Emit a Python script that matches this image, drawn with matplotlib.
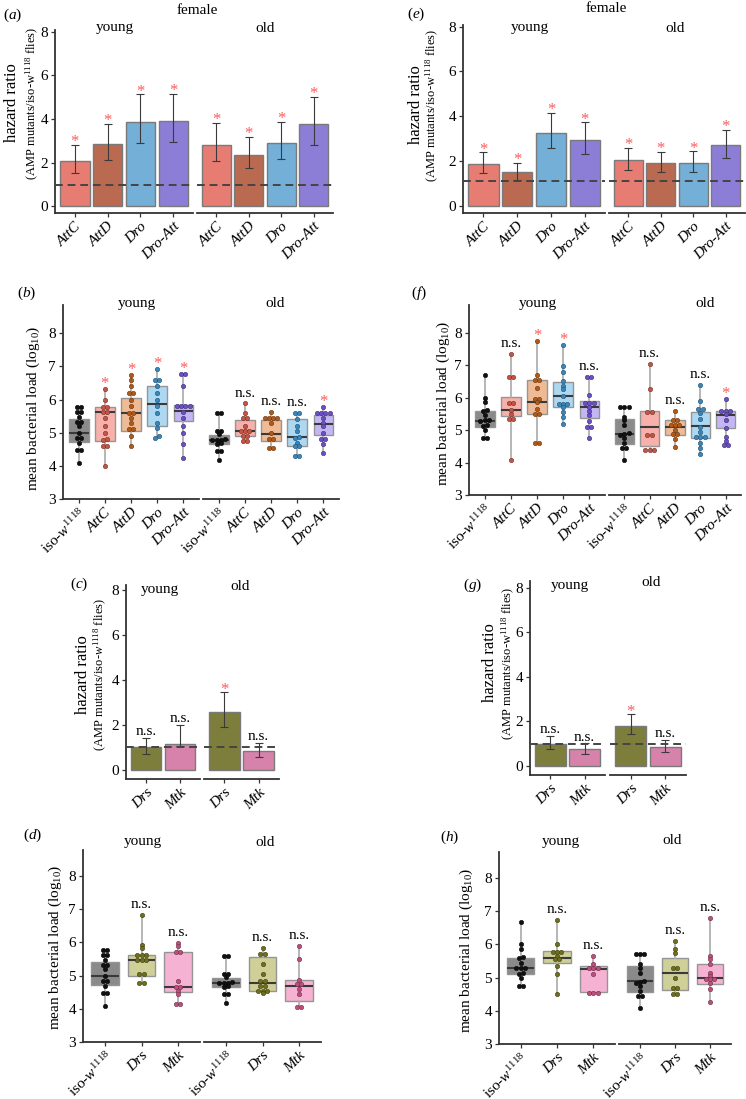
import matplotlib
matplotlib.use('Agg')
import matplotlib.pyplot as plt
import matplotlib.colors as mcolors
import numpy as np

plt.rcParams['font.family'] = ['Liberation Serif', 'DejaVu Serif']
plt.rcParams['mathtext.fontset'] = 'custom'
plt.rcParams['mathtext.rm'] = 'Liberation Serif'
plt.rcParams['mathtext.it'] = 'Liberation Serif:italic'
plt.rcParams['mathtext.bf'] = 'Liberation Serif:bold'

# ---------------- data ----------------
hr_genes = ['AttC', 'AttD', 'Dro', 'Dro-Att']
a_young_hr = [2.06, 2.83, 3.86, 3.91]
a_young_lo = [1.52, 2.11, 2.91, 2.95]
a_young_hi = [2.80, 3.77, 5.14, 5.17]
a_old_hr = [2.80, 2.34, 2.91, 3.75]
a_old_lo = [2.05, 1.75, 2.18, 2.82]
a_old_hi = [3.82, 3.18, 3.88, 5.03]
a_sig_young = ['*', '*', '*', '*']
a_sig_old = ['*', '*', '*', '*']
a_ref = 0.95

e_young_hr = [1.87, 1.49, 3.27, 2.93]
e_young_lo = [1.45, 1.16, 2.58, 2.30]
e_young_hi = [2.39, 1.91, 4.16, 3.72]
e_old_hr = [2.04, 1.90, 1.91, 2.69]
e_old_lo = [1.61, 1.49, 1.49, 2.12]
e_old_hi = [2.60, 2.40, 2.43, 3.39]
e_sig_young = ['*', '*', '*', '*']
e_sig_old = ['*', '*', '*', '*']
e_ref = 1.09

toll_genes = ['Drs', 'Mtk']
c_young_hr = [1.00, 1.14]
c_young_lo = [0.71, 1.05]
c_young_hi = [1.41, 2.01]
c_old_hr = [2.55, 0.84]
c_old_lo = [1.90, 0.59]
c_old_hi = [3.44, 1.19]
c_sig_young = ['n.s.', 'n.s.']
c_sig_old = ['*', 'n.s.']
c_ref = 1.0

g_young_hr = [1.01, 0.75]
g_young_lo = [0.78, 0.56]
g_young_hi = [1.34, 1.02]
g_old_hr = [1.80, 0.87]
g_old_lo = [1.44, 0.63]
g_old_hi = [2.32, 1.16]
g_sig_young = ['n.s.', 'n.s.']
g_sig_old = ['*', 'n.s.']
g_ref = 1.0

load_genes_imd = ['iso', 'AttC', 'AttD', 'Dro', 'Dro-Att']
load_genes_toll = ['iso', 'Drs', 'Mtk']

# controls (shared between panels b/d and f/h)
iso_bd_young = [5.78, 5.78, 5.62, 5.62, 5.48, 5.32, 5.32, 5.2, 5.0, 4.84, 4.84, 4.7, 4.48, 4.48, 4.08]
iso_bd_young_box = (4.72, 5.00, 5.40)
iso_bd_old = [5.58, 5.58, 5.05, 5.05, 4.95, 4.82, 4.78, 4.78, 4.78, 4.72, 4.7, 4.65, 4.45, 4.45, 4.17]
iso_bd_old_box = (4.65, 4.78, 4.93)
iso_fh_young = [6.68, 6.0, 5.85, 5.62, 5.6, 5.45, 5.3, 5.3, 5.28, 5.15, 5.12, 5.0, 4.75, 4.75]
iso_fh_young_box = (5.10, 5.29, 5.60)
iso_fh_old = [5.72, 5.72, 5.72, 5.4, 5.3, 5.15, 4.9, 4.88, 4.85, 4.75, 4.6, 4.45, 4.45, 4.08]
iso_fh_old_box = (4.57, 4.89, 5.35)

# panel b
b_young_pts = [iso_bd_young,
               [6.33, 6.0, 5.78, 5.78, 5.62, 5.62, 5.45, 5.2, 5.0, 4.8, 4.78, 4.6, 4.6, 4.0],
               [6.75, 6.6, 6.4, 6.2, 6.2, 6.0, 5.8, 5.6, 5.6, 5.45, 5.3, 5.1, 5.1, 4.9, 4.6],
               [6.93, 6.6, 6.6, 6.4, 6.2, 6.0, 5.8, 5.6, 5.3, 5.15, 4.9, 4.85],
               [6.78, 6.78, 6.42, 5.8, 5.8, 5.8, 5.8, 5.62, 5.45, 5.2, 5.0, 4.65, 4.25]]
b_young_box = [iso_bd_young_box, (4.76, 5.62, 5.78), (5.05, 5.60, 6.05), (5.20, 5.87, 6.42), (5.35, 5.66, 5.82)]
b_young_sig = ['', '*', '*', '*', '*']
b_old_pts = [iso_bd_old,
             [5.88, 5.6, 5.45, 5.45, 5.2, 5.05, 5.05, 5.05, 4.9, 4.9, 4.75, 4.75],
             [5.62, 5.45, 5.45, 5.45, 5.45, 5.3, 5.0, 4.8, 4.8, 4.55, 4.55],
             [5.58, 5.58, 5.4, 5.2, 5.05, 4.87, 4.85, 4.7, 4.6, 4.6, 4.3, 4.3],
             [5.78, 5.58, 5.58, 5.58, 5.58, 5.45, 5.3, 5.2, 5.0, 4.8, 4.8, 4.65, 4.38]]
b_old_box = [iso_bd_old_box, (4.90, 5.04, 5.38), (4.76, 4.97, 5.38), (4.60, 4.87, 5.42), (4.92, 5.27, 5.53)]
b_old_sig = ['', 'n.s.', 'n.s.', 'n.s.', '*']

# panel f
f_young_pts = [iso_fh_young,
               [7.33, 6.62, 6.62, 5.82, 5.82, 5.62, 5.5, 5.35, 5.35, 4.08],
               [7.75, 6.68, 6.55, 6.55, 6.3, 5.95, 5.95, 5.85, 5.65, 5.5, 5.5, 4.6, 4.6],
               [7.62, 6.98, 6.8, 6.5, 6.35, 6.25, 6.05, 5.8, 5.8, 5.8, 5.7, 5.55, 5.4, 5.2],
               [6.62, 6.62, 6.08, 5.82, 5.82, 5.82, 5.72, 5.6, 5.45, 5.28, 5.1, 5.1, 4.75]]
f_young_box = [iso_fh_young_box, (5.42, 5.62, 6.02), (5.50, 5.85, 6.55), (5.70, 6.05, 6.47), (5.36, 5.72, 5.88)]
f_young_sig = ['', 'n.s.', '*', '*', 'n.s.']
f_old_pts = [iso_fh_old,
             [7.03, 6.25, 5.55, 5.55, 4.85, 4.85, 4.4, 4.4, 4.4],
             [5.58, 5.3, 5.3, 5.15, 5.15, 5.15, 5.0, 4.88, 4.88, 4.72, 4.48],
             [6.38, 5.9, 5.65, 5.65, 5.52, 5.35, 5.1, 4.95, 4.8, 4.8, 4.8, 4.6, 4.45, 4.25],
             [5.95, 5.6, 5.6, 5.6, 5.5, 5.3, 5.05, 4.8, 4.65, 4.55, 4.55]]
f_old_box = [iso_fh_old_box, (4.52, 5.08, 5.58), (4.85, 5.10, 5.30), (4.75, 5.13, 5.55), (5.05, 5.47, 5.60)]
f_old_sig = ['', 'n.s.', 'n.s.', 'n.s.', '*']

# panel d
d_young_pts = [iso_bd_young,
               [6.82, 5.92, 5.82, 5.62, 5.62, 5.62, 5.47, 5.47, 5.47, 5.05, 5.05, 4.78, 4.78],
               [5.98, 5.88, 5.7, 5.7, 4.85, 4.65, 4.65, 4.55, 4.45, 4.15, 4.15]]
d_young_box = [iso_bd_young_box, (5.00, 5.47, 5.63), (4.50, 4.65, 5.70)]
d_young_sig = ['', 'n.s.', 'n.s.']
d_old_pts = [iso_bd_old,
             [5.82, 5.65, 5.65, 5.35, 5.05, 4.85, 4.85, 4.7, 4.7, 4.55, 4.55, 4.55, 4.48],
             [5.9, 5.5, 4.88, 4.75, 4.75, 4.6, 4.45, 4.05, 4.05]]
d_old_box = [iso_bd_old_box, (4.55, 4.78, 5.56), (4.22, 4.68, 4.88)]
d_old_sig = ['', 'n.s.', 'n.s.']

# panel h
h_young_pts = [iso_fh_young,
               [6.72, 6.0, 5.78, 5.78, 5.78, 5.65, 5.55, 5.55, 5.35, 5.1, 4.52],
               [5.65, 5.42, 5.3, 5.3, 5.3, 5.1, 4.55, 4.55, 4.55]]
h_young_box = [iso_fh_young_box, (5.45, 5.58, 5.80), (4.57, 5.25, 5.35)]
h_young_sig = ['', 'n.s.', 'n.s.']
h_old_pts = [iso_fh_old,
             [6.1, 5.85, 5.75, 5.3, 5.3, 5.0, 4.7, 4.7, 4.5, 4.5],
             [6.78, 5.65, 5.55, 5.4, 5.15, 5.05, 4.95, 4.95, 4.95, 4.85, 4.65, 4.25]]
h_old_box = [iso_fh_old_box, (4.64, 5.15, 5.60), (4.80, 4.98, 5.42)]
h_old_sig = ['', 'n.s.', 'n.s.']

# ---------------- styles ----------------
bar_colors = {'AttC': '#e77c73', 'AttD': '#b96a50', 'Dro': '#73afd7', 'Dro-Att': '#8c7dd7',
              'Drs': '#7d7d3c', 'Mtk': '#d782aa'}
box_fill = {'iso': '#8a8a8a', 'AttC': '#f8b0aa', 'AttD': '#efbb97', 'Dro': '#acd8f2',
            'Dro-Att': '#c4b6f4', 'Drs': '#cfcf98', 'Mtk': '#f5b2d3'}
point_colors = {'iso': '#111111', 'AttC': '#c25545', 'AttD': '#b05a1a', 'Dro': '#3a86ba',
                'Dro-Att': '#6a50c0', 'Drs': '#6e6e20', 'Mtk': '#bd4f7d'}
STAR = '#ff5a5a'
AX = '#333333'

W, H = 746, 1099
fig = plt.figure(figsize=(W / 100, H / 100), dpi=100)


def frac(x0, x1, ytop, ybot):
    return [x0 / W, 1 - ybot / H, (x1 - x0) / W, (ybot - ytop) / H]


def ftext(x, y, s, **kw):
    kw.setdefault('ha', 'center')
    kw.setdefault('va', 'center')
    fig.text(x / W, 1 - y / H, s, **kw)


def xlab(l):
    return r'iso-$w^{1118}$' if l == 'iso' else l


def darker(c, f=0.6):
    r, g, b = mcolors.to_rgb(c)
    return (r * f, g * f, b * f)


def make_facets(left, yend, ostart, oend, top, bot, ylim, yticks, labels):
    n = len(labels)
    axs = []
    for i, (x0, x1) in enumerate(((left, yend), (ostart, oend))):
        ax = fig.add_axes(frac(x0, x1, top, bot))
        ax.set_xlim(0.4, n + 0.6)
        ax.set_ylim(*ylim)
        ax.patch.set_alpha(0)
        for s in ('top', 'right'):
            ax.spines[s].set_visible(False)
        for s in ('bottom', 'left'):
            ax.spines[s].set_color(AX)
            ax.spines[s].set_linewidth(1.3)
        ax.tick_params(axis='both', colors=AX, length=3, width=0.9, labelsize=11,
                       labelcolor='black', pad=2)
        ax.set_yticks(yticks)
        ax.set_xticks(range(1, n + 1))
        tl = ax.set_xticklabels([xlab(l) for l in labels], rotation=45, ha='right',
                                va='top', rotation_mode='anchor', fontsize=11)
        for t, l in zip(tl, labels):
            t.set_fontstyle('normal' if l == 'iso' else 'italic')
        if i == 1:
            ax.spines['left'].set_visible(False)
            ax.tick_params(axis='y', left=False, labelleft=False)
        axs.append(ax)
    return axs


def sig_text(ax, x, y, s, off_star, off_ns):
    if s == '*':
        ax.annotate('*', (x, y), xytext=(0, off_star), textcoords='offset points',
                    ha='center', va='baseline', fontsize=12, color=STAR)
    elif s:
        ax.annotate(s, (x, y), xytext=(0, off_ns), textcoords='offset points',
                    ha='center', va='baseline', fontsize=11, color='black')


def hr_facet(ax, genes, hr, lo, hi, sig, ref):
    x = np.arange(1, len(genes) + 1)
    hr = np.array(hr); lo = np.array(lo); hi = np.array(hi)
    ax.bar(x, hr, width=0.9, color=[bar_colors[g] for g in genes], edgecolor='#7a7a7a',
           linewidth=1.0, zorder=2)
    ax.errorbar(x, hr, yerr=[hr - lo, hi - hr], fmt='none', ecolor='#3a3a3a',
                elinewidth=0.8, capsize=2.6, capthick=0.8, zorder=3)
    ax.axhline(ref, color='#444444', lw=1.4, ls=(0, (4, 2.5)), zorder=4)
    for xi, h, s in zip(x, hi, sig):
        sig_text(ax, xi, h, s, -1.0, 2.0)


def swarm_offsets(vals, step, binw=0.06):
    vals = np.asarray(vals, float)
    order = np.argsort(vals)
    offs = np.zeros(len(vals))
    groups, cur = [], [order[0]]
    for idx in order[1:]:
        if vals[idx] - vals[cur[0]] < binw:
            cur.append(idx)
        else:
            groups.append(cur)
            cur = [idx]
    groups.append(cur)
    for g in groups:
        k = len(g)
        for j, idx in enumerate(g):
            offs[idx] = (j - (k - 1) / 2) * step
    return offs


def box_facet(ax, labels, pts, boxes, sig, width_px):
    n = len(labels)
    unit_px = width_px / (n + 0.2)
    step = 4.3 / unit_px
    stats = []
    for (q1, med, q3), p in zip(boxes, pts):
        stats.append(dict(med=med, q1=q1, q3=q3, whislo=min(p), whishi=max(p), fliers=[]))
    bp = ax.bxp(stats, positions=range(1, n + 1), widths=0.75, patch_artist=True,
                showcaps=False, showfliers=False, manage_ticks=False,
                boxprops=dict(edgecolor='#959595', linewidth=1.0),
                medianprops=dict(color='#3a3a3a', linewidth=1.5),
                whiskerprops=dict(color='#b0b0b0', linewidth=1.3))
    for patch, lab in zip(bp['boxes'], labels):
        patch.set_facecolor(box_fill[lab])
        patch.set_zorder(2)
    for i, (lab, p) in enumerate(zip(labels, pts)):
        offs = swarm_offsets(p, step)
        ax.scatter(i + 1 + offs, p, s=10, color=point_colors[lab], zorder=4,
                   edgecolors=[darker(point_colors[lab])], linewidths=0.4)
        sig_text(ax, i + 1, max(p), sig[i], 0.5, 5.0)


def hr_ylabel(x1, x2, y, italic_w):
    ftext(x1, y, 'hazard ratio', rotation=90, fontsize=12)
    w = r'$w^{1118}$' if italic_w else r'w$^{1118}$'
    ftext(x2, y, '(AMP mutants/iso-' + w + ' flies)', rotation=90, fontsize=9)


def load_ylabel(x, y):
    ftext(x, y, r'mean bacterial load (log$_{10}$)', rotation=90, fontsize=11)


# ---------------- panel a ----------------
ay, ao = make_facets(55, 193, 197, 333, 30, 213, (-0.32, 8.09), [0, 2, 4, 6, 8], hr_genes)
hr_facet(ay, hr_genes, a_young_hr, a_young_lo, a_young_hi, a_sig_young, a_ref)
hr_facet(ao, hr_genes, a_old_hr, a_old_lo, a_old_hi, a_sig_old, a_ref)
ftext(13, 15, r'($a$)', fontsize=11)
ftext(197, 10, 'female', fontsize=11)
ftext(115, 28, 'young', fontsize=11)
ftext(265, 28, 'old', fontsize=11)
hr_ylabel(12, 32, 103, False)

# ---------------- panel e ----------------
ey, eo = make_facets(463, 605, 609, 745, 25, 213, (-0.33, 8.08), [0, 2, 4, 6, 8], hr_genes)
hr_facet(ey, hr_genes, e_young_hr, e_young_lo, e_young_hi, e_sig_young, e_ref)
hr_facet(eo, hr_genes, e_old_hr, e_old_lo, e_old_hi, e_sig_old, e_ref)
ftext(416, 14, r'($e$)', fontsize=11)
ftext(606, 8, 'female', fontsize=11)
ftext(530, 28, 'young', fontsize=11)
ftext(675, 28, 'old', fontsize=11)
hr_ylabel(416, 432, 105, False)

# ---------------- panel b ----------------
by, bo = make_facets(63, 199, 203, 339, 305, 499, (3, 8.85), [3, 4, 5, 6, 7, 8], load_genes_imd)
box_facet(by, load_genes_imd, b_young_pts, b_young_box, b_young_sig, 136)
box_facet(bo, load_genes_imd, b_old_pts, b_old_box, b_old_sig, 136)
ftext(27, 293, r'($b$)', fontsize=11)
ftext(137, 303, 'young', fontsize=11)
ftext(275, 303, 'old', fontsize=11)
load_ylabel(33, 408)

# ---------------- panel f ----------------
fy, fo = make_facets(469, 605, 609, 741, 305, 495, (3, 8.85), [3, 4, 5, 6, 7, 8], load_genes_imd)
box_facet(fy, load_genes_imd, f_young_pts, f_young_box, f_young_sig, 136)
box_facet(fo, load_genes_imd, f_old_pts, f_old_box, f_old_sig, 132)
ftext(419, 293, r'($f$)', fontsize=11)
ftext(538, 303, 'young', fontsize=11)
ftext(705, 303, 'old', fontsize=11)
load_ylabel(443, 403)

# ---------------- panel c ----------------
cy, co = make_facets(126, 200, 204, 279, 585, 779, (-0.4, 8.2), [0, 2, 4, 6, 8], toll_genes)
hr_facet(cy, toll_genes, c_young_hr, c_young_lo, c_young_hi, c_sig_young, c_ref)
hr_facet(co, toll_genes, c_old_hr, c_old_lo, c_old_hi, c_sig_old, c_ref)
ftext(79, 584, r'($c$)', fontsize=11)
ftext(160, 590, 'young', fontsize=11)
ftext(240, 587, 'old', fontsize=11)
hr_ylabel(83, 100, 675, True)

# ---------------- panel g ----------------
gy, go = make_facets(530, 605, 610, 686, 581, 775, (-0.4, 8.3), [0, 2, 4, 6, 8], toll_genes)
hr_facet(gy, toll_genes, g_young_hr, g_young_lo, g_young_hi, g_sig_young, g_ref)
hr_facet(go, toll_genes, g_old_hr, g_old_lo, g_old_hi, g_sig_old, g_ref)
ftext(473, 585, r'($g$)', fontsize=11)
ftext(570, 585, 'young', fontsize=11)
ftext(651, 583, 'old', fontsize=11)
hr_ylabel(490, 508, 663, False)

# ---------------- panel d ----------------
dy, do = make_facets(83, 200, 204, 321, 850, 1042, (3, 8.78), [3, 4, 5, 6, 7, 8], load_genes_toll)
box_facet(dy, load_genes_toll, d_young_pts, d_young_box, d_young_sig, 117)
box_facet(do, load_genes_toll, d_old_pts, d_old_box, d_old_sig, 117)
ftext(33, 835, r'($d$)', fontsize=11)
ftext(143, 842, 'young', fontsize=11)
ftext(265, 842, 'old', fontsize=11)
load_ylabel(55, 947)

# ---------------- panel h ----------------
hy, ho = make_facets(499, 615, 619, 731, 852, 1044, (3, 8.78), [3, 4, 5, 6, 7, 8], load_genes_toll)
box_facet(hy, load_genes_toll, h_young_pts, h_young_box, h_young_sig, 116)
box_facet(ho, load_genes_toll, h_old_pts, h_old_box, h_old_sig, 112)
ftext(450, 837, r'($h$)', fontsize=11)
ftext(561, 842, 'young', fontsize=11)
ftext(672, 841, 'old', fontsize=11)
load_ylabel(466, 950)

fig.savefig('out.png', dpi=100)
